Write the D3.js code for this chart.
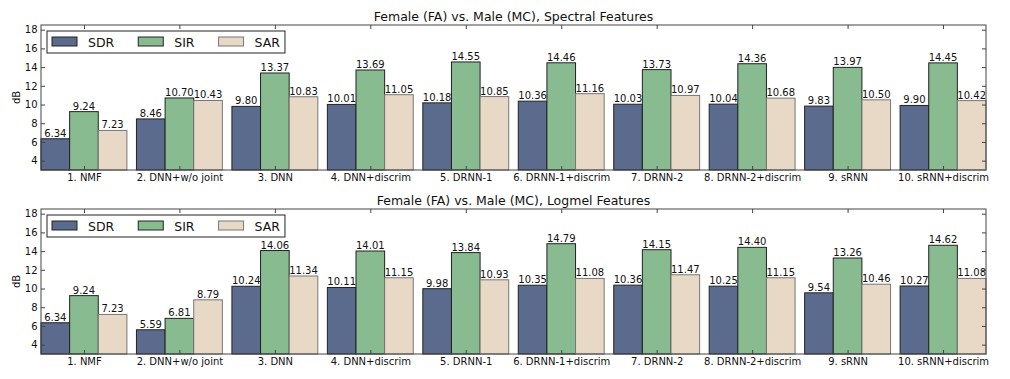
<!DOCTYPE html>
<html>
<head>
<meta charset="utf-8">
<script src="https://cdn.jsdelivr.net/npm/d3@7"></script>
<style>
  body { margin: 0; background: #fff; }
  svg { font-family: "DejaVu Sans", sans-serif; }
</style>
</head>
<body>
<div id="chart"></div>
<script>
const methods = ['1. NMF', '2. DNN+w/o joint', '3. DNN', '4. DNN+discrim', '5. DRNN-1',
  '6. DRNN-1+discrim', '7. DRNN-2', '8. DRNN-2+discrim', '9. sRNN', '10. sRNN+discrim'];
const seriesNames = ['SDR', 'SIR', 'SAR'];
const yTicks = [4, 6, 8, 10, 12, 14, 16, 18];

const spectralSDR = [6.34, 8.46, 9.80, 10.01, 10.18, 10.36, 10.03, 10.04, 9.83, 9.90];
const spectralSIR = [9.24, 10.70, 13.37, 13.69, 14.55, 14.46, 13.73, 14.36, 13.97, 14.45];
const spectralSAR = [7.23, 10.43, 10.83, 11.05, 10.85, 11.16, 10.97, 10.68, 10.50, 10.42];

const logmelSDR = [6.34, 5.59, 10.24, 10.11, 9.98, 10.35, 10.36, 10.25, 9.54, 10.27];
const logmelSIR = [9.24, 6.81, 14.06, 14.01, 13.84, 14.79, 14.15, 14.40, 13.26, 14.62];
const logmelSAR = [7.23, 8.79, 11.34, 11.15, 10.93, 11.08, 11.47, 11.15, 10.46, 11.08];

const panels = [
  {title: 'Female (FA) vs. Male (MC), Spectral Features', top: 25, series: [spectralSDR, spectralSIR, spectralSAR]},
  {title: 'Female (FA) vs. Male (MC), Logmel Features', top: 209, series: [logmelSDR, logmelSIR, logmelSAR]}
];

const width = 1010;
const height = 379;
const plotLeft = 41;
const plotRight = 986;
const plotHeight = 145;
const barWidth = 0.3;
const fills = ['#5b6b8e', '#88bb8f', '#e8d8c6'];
const strokes = ['#222', '#222', '#777'];
const frameColor = '#444';
const textColor = '#111';

const svg = d3.select('#chart')
  .append('svg')
  .attr('width', width)
  .attr('height', height);

const xScale = d3.scaleLinear()
  .domain([0, methods.length - 0.1])
  .range([plotLeft, plotRight]);

function styleAxisText(sel) {
  sel.selectAll('text')
    .style('font-size', '10px')
    .style('font-family', '"DejaVu Sans", sans-serif')
    .style('fill', textColor);
}

panels.forEach(panel => {
  const top = panel.top;
  const bottom = top + plotHeight;

  const yScale = d3.scaleLinear()
    .domain([3, 18.5])
    .range([bottom, top]);

  const g = svg.append('g');

  // bars
  panel.series.forEach((values, s) => {
    g.selectAll(`rect.bar-${s}`)
      .data(values)
      .join('rect')
      .attr('class', `bar-${s}`)
      .attr('x', (d, i) => xScale(i + s * barWidth))
      .attr('y', d => yScale(d))
      .attr('width', xScale(barWidth) - xScale(0))
      .attr('height', d => yScale(3) - yScale(d))
      .attr('fill', fills[s])
      .attr('stroke', strokes[s])
      .attr('stroke-width', 1);
  });

  // value labels
  panel.series.forEach((values, s) => {
    g.selectAll(`text.val-${s}`)
      .data(values)
      .join('text')
      .attr('class', `val-${s}`)
      .attr('x', (d, i) => xScale(i + s * barWidth + barWidth / 2))
      .attr('y', d => yScale(d) - 2)
      .attr('text-anchor', 'middle')
      .style('font-size', '10px')
      .style('fill', textColor)
      .text(d => d.toFixed(2));
  });

  // frame
  g.append('rect')
    .attr('x', plotLeft)
    .attr('y', top)
    .attr('width', plotRight - plotLeft)
    .attr('height', plotHeight)
    .attr('fill', 'none')
    .attr('stroke', frameColor)
    .attr('stroke-width', 1);

  const groupCenters = methods.map((m, i) => i + 1.5 * barWidth);

  const xAxisG = g.append('g')
    .attr('transform', `translate(0, ${bottom})`)
    .call(d3.axisBottom(xScale)
      .tickValues(groupCenters)
      .tickFormat((d, i) => methods[i])
      .tickSizeInner(-4)
      .tickSizeOuter(0)
      .tickPadding(3.5));
  xAxisG.select('.domain').remove();
  xAxisG.selectAll('line').attr('stroke', frameColor);
  styleAxisText(xAxisG);

  const xTopG = g.append('g')
    .attr('transform', `translate(0, ${top})`)
    .call(d3.axisTop(xScale).tickValues(groupCenters).tickFormat('').tickSizeInner(-4).tickSizeOuter(0));
  xTopG.select('.domain').remove();
  xTopG.selectAll('line').attr('stroke', frameColor);

  const yAxisG = g.append('g')
    .attr('transform', `translate(${plotLeft}, 0)`)
    .call(d3.axisLeft(yScale).tickValues(yTicks).tickSizeInner(-4).tickSizeOuter(0).tickPadding(3.5));
  yAxisG.select('.domain').remove();
  yAxisG.selectAll('line').attr('stroke', frameColor);
  styleAxisText(yAxisG);

  const yRightG = g.append('g')
    .attr('transform', `translate(${plotRight}, 0)`)
    .call(d3.axisRight(yScale).tickValues(yTicks).tickFormat('').tickSizeInner(-4).tickSizeOuter(0));
  yRightG.select('.domain').remove();
  yRightG.selectAll('line').attr('stroke', frameColor);

  // title
  g.append('text')
    .attr('x', (plotLeft + plotRight) / 2)
    .attr('y', top - 4.5)
    .attr('text-anchor', 'middle')
    .style('font-size', '12.5px')
    .style('fill', textColor)
    .text(panel.title);

  // y label
  g.append('text')
    .attr('text-anchor', 'middle')
    .attr('transform', `translate(20, ${(top + bottom) / 2}) rotate(-90)`)
    .style('font-size', '10px')
    .style('fill', textColor)
    .text('dB');

  // legend
  const legend = g.append('g')
    .attr('transform', `translate(${plotLeft + 6}, ${top + 6})`);
  const legendBox = legend.append('rect')
    .attr('height', 22)
    .attr('fill', '#fff')
    .attr('stroke', '#222')
    .attr('stroke-width', 1);
  let xPos = 5;
  seriesNames.forEach((name, s) => {
    const item = legend.append('g')
      .attr('transform', `translate(${xPos}, 0)`);
    item.append('rect')
      .attr('y', 6)
      .attr('width', 25)
      .attr('height', 9)
      .attr('fill', fills[s])
      .attr('stroke', strokes[s]);
    const label = item.append('text')
      .attr('x', 36)
      .attr('y', 15.5)
      .style('font-size', '12.5px')
      .style('fill', textColor)
      .text(name);
    xPos += 36 + label.node().getComputedTextLength() + 24;
  });
  legendBox.attr('width', xPos - 24 + 5);
});
</script>
</body>
</html>
